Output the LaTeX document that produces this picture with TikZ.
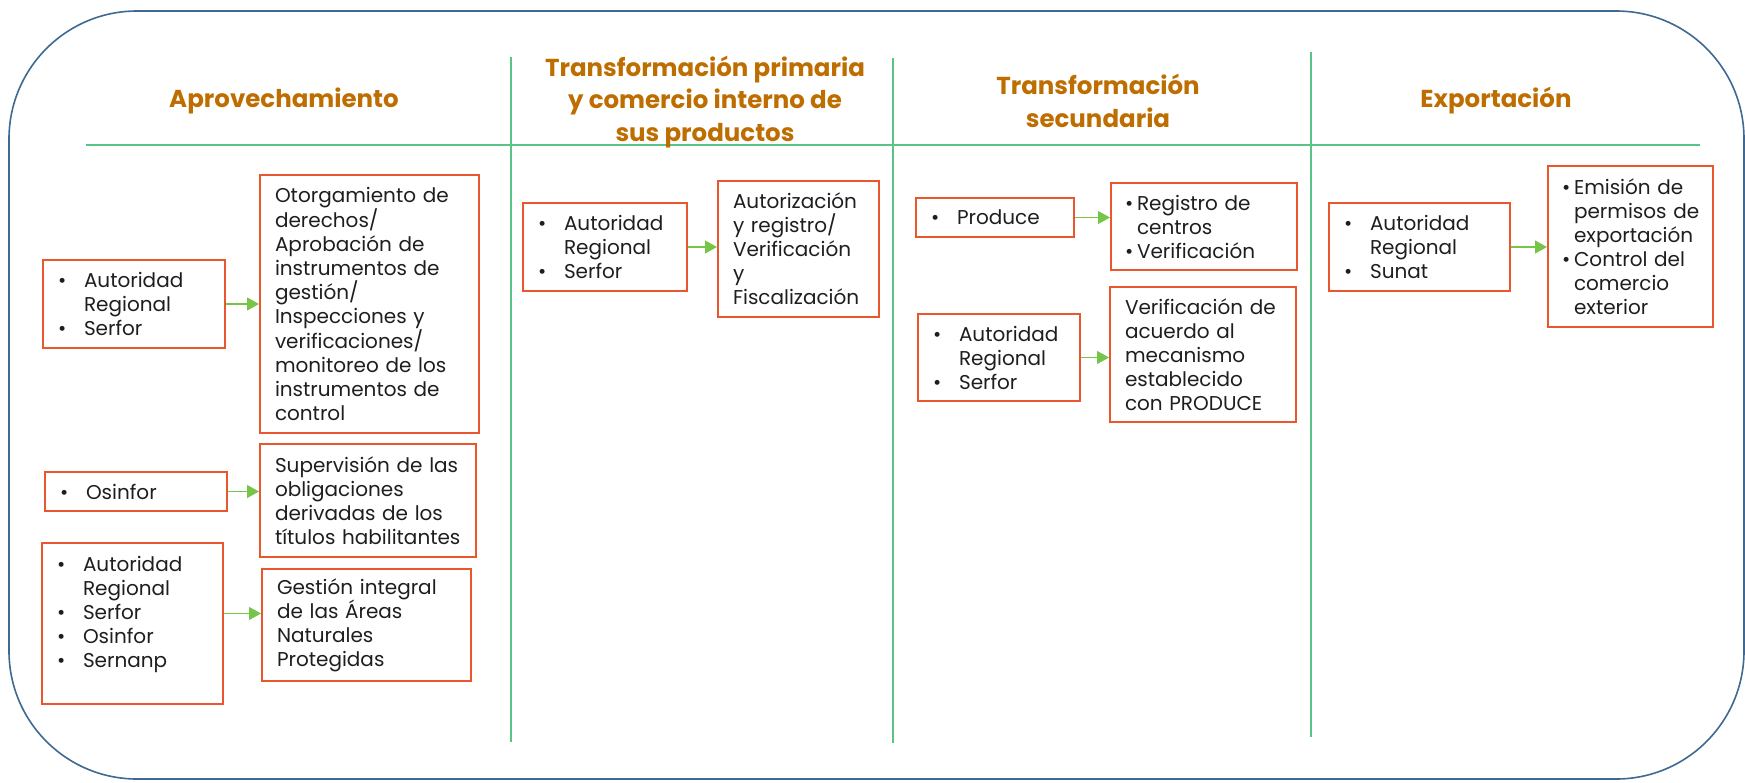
\documentclass[tikz,border=0pt]{standalone}
\usepackage{fontspec}
\setmainfont{Poppins}
\usetikzlibrary{arrows.meta}

\definecolor{frame}{RGB}{62,105,145}
\definecolor{sepgreen}{RGB}{90,195,135}
\definecolor{title}{RGB}{190,110,0}
\definecolor{boxred}{RGB}{234,86,46}
\definecolor{arrgreen}{RGB}{118,196,72}
\definecolor{txt}{RGB}{30,30,30}

\newcommand{\blt}{\makebox[26pt][l]{\textbullet}}
\newcommand{\hng}{\hspace*{26pt}}
\newcommand{\sblt}{\makebox[12pt][l]{\textbullet}}
\newcommand{\shng}{\hspace*{12pt}}

\begin{document}
\begin{tikzpicture}[x=1pt, y=-1pt,
  box/.style={draw=boxred, line width=2pt, anchor=north west, inner xsep=15pt, inner ysep=0pt, align=left, text=txt, font=\fontsize{20}{24}\selectfont},
  head/.style={text=title, align=center, font=\bfseries\fontsize{24.5}{32.5}\selectfont},
  sep/.style={draw=sepgreen, line width=1.2pt},
  link/.style={draw=arrgreen, fill=arrgreen, line width=1.2pt},
  >={Triangle[length=12pt,width=13pt]}]
  \useasboundingbox (0,0) rectangle (1745,782);
  % Frame and columns
  \draw[frame, line width=1.6pt, rounded corners=128pt] (9,11) rectangle (1744,779);
  \draw[sep] (86,145) -- (1700,145);
  \draw[sep] (511,57) -- (511,742);
  \draw[sep] (893,58) -- (893,743);
  \draw[sep] (1311,52) -- (1311,737);
  % Headers
  \node[head] (h1) at (284,101) {Aprovechamiento};
  \node[head] (h2) at (705,102) {Transformación primaria\\y comercio interno de\\sus productos};
  \node[head] (h3) at (1098,101) {Transformación\\secundaria};
  \node[head] (h4) at (1496,101) {Exportación};
  % Aprovechamiento
  \node[box, text width=152pt, minimum height=88pt] (aut1) at (42,259) {\blt Autoridad\\\hng Regional\\\blt Serfor};
  \node[box, text width=189pt, minimum height=258pt] (otorg) at (259,174) {Otorgamiento de\\derechos/\\Aprobación de\\instrumentos de\\gestión/\\Inspecciones y\\verificaciones/\\monitoreo de los\\instrumentos de\\control};
  \node[box, text width=152pt, minimum height=39pt] (osf) at (44,471) {\blt Osinfor};
  \node[box, text width=186pt, minimum height=113pt] (sup) at (259,443) {Supervisión de las\\obligaciones\\derivadas de los\\títulos habilitantes};
  \node[box, text width=151pt, minimum height=161pt] (aut2) at (41,542) {\blt Autoridad\\\hng Regional\\\blt Serfor\\\blt Osinfor\\\blt Sernanp\\\mbox{}};
  \node[box, text width=179pt, minimum height=112pt] (ges) at (261,568) {Gestión integral\\de las Áreas\\Naturales\\Protegidas};
  % Transformacion primaria
  \node[box, text width=134pt, minimum height=88pt] (aut3) at (522,202) {\blt Autoridad\\\hng Regional\\\blt Serfor};
  \node[box, text width=131pt, minimum height=136pt] (autz) at (717,180) {Autorización\\y registro/\\Verificación\\y\\Fiscalización};
  % Transformacion secundaria
  \node[box, text width=128pt, minimum height=39pt] (prod) at (915,197) {\blt Produce};
  \node[box, text width=158pt, minimum height=87pt, inner xsep=14pt] (reg) at (1110,182) {\sblt Registro de\\\shng centros\\\sblt Verificación};
  \node[box, text width=132pt, minimum height=87pt] (aut4) at (917,313) {\blt Autoridad\\\hng Regional\\\blt Serfor};
  \node[box, text width=156pt, minimum height=135pt] (ver) at (1109,286) {Verificación de\\acuerdo al\\mecanismo\\establecido\\con PRODUCE};
  % Exportacion
  \node[box, text width=151pt, minimum height=88pt] (aut5) at (1328,202) {\blt Autoridad\\\hng Regional\\\blt Sunat};
  \node[box, text width=137pt, minimum height=161pt, inner xsep=14pt] (emi) at (1547,165) {\sblt Emisión de\\\shng\mbox{permisos de}\\\shng exportación\\\sblt Control del\\\shng comercio\\\shng exterior};
  % Flechas
  \draw[link,->] (aut1.east) -- (aut1.east -| otorg.west);
  \draw[link,->] (osf.east) -- (osf.east -| sup.west);
  \draw[link,->] ([yshift=10pt]aut2.east) -- ([yshift=10pt]aut2.east -| ges.west);
  \draw[link,->] (aut3.east) -- (aut3.east -| autz.west);
  \draw[link,->] (prod.east) -- (prod.east -| reg.west);
  \draw[link,->] (aut4.east) -- (aut4.east -| ver.west);
  \draw[link,->] (aut5.east) -- (aut5.east -| emi.west);
\end{tikzpicture}
\end{document}
